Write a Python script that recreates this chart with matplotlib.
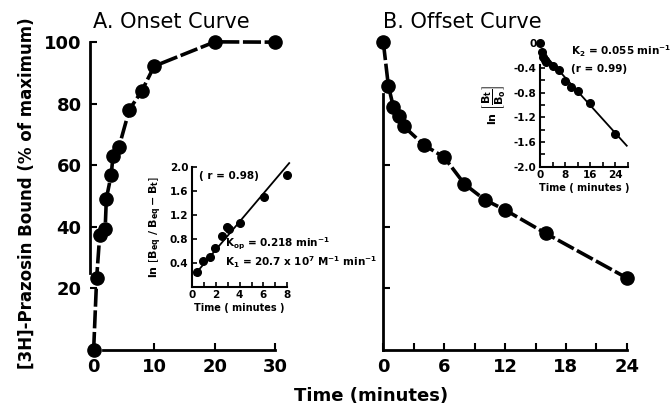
import matplotlib
matplotlib.use('Agg')
import matplotlib.pyplot as plt

plt.rcParams['font.family'] = ['DejaVu Sans']

# A. onset curve (% of maximum)
onset_t = [0, 0.5, 1.0, 1.9, 2.1, 2.9, 3.2, 4.2, 5.9, 7.9, 10, 20, 30]
onset_y = [0, 23.4, 37.2, 39.2, 49.2, 56.9, 63.1, 66.1, 78.1, 84.0, 92.2, 100.1, 100]

# inset A: ln[Beq/(Beq-Bt)]
ins_a_t = [0.42, 0.92, 1.53, 1.95, 2.5, 2.92, 3.15, 4.04, 6.05, 8.0]
ins_a_y = [0.25, 0.43, 0.50, 0.65, 0.845, 1.0, 0.955, 1.07, 1.49, 1.86]
fit_a_t = [0.25, 8.15]
fit_a_y = [0.20, 2.06]

# B. offset curve
offset_t = [0, 0.5, 1.0, 1.5, 2, 4, 6, 8, 10, 12, 16, 24]
offset_y = [100, 85.8, 78.9, 76.0, 72.7, 66.6, 62.6, 53.9, 48.8, 45.5, 37.9, 23.4]

# inset B: ln(Bt/Bo)
ins_b_t = [0, 0.5, 1.0, 1.5, 2, 4, 6, 8, 10, 12, 16, 24]
ins_b_y = [0, -0.14, -0.22, -0.27, -0.31, -0.36, -0.44, -0.61, -0.71, -0.77, -0.96, -1.47]
fit_b_t = [0.3, 27.6]
fit_b_y = [-0.12, -1.66]

W, H = 671, 407
fig = plt.figure(figsize=(W / 100, H / 100), dpi=100)


def px_axes(x0, x1, ytop, ybot):
    ax = fig.add_axes([x0 / W, 1 - ybot / H, (x1 - x0) / W, (ybot - ytop) / H])
    ax.patch.set_visible(False)
    for s in ['top', 'right']:
        ax.spines[s].set_visible(False)
    return ax


dash = (0, (5, 1))
tick_font = dict(fontsize=13, fontweight='bold')
small_font = dict(fontsize=7.5, fontweight='bold')

# ---- panel A
axA = px_axes(90, 284.5, 36, 350)
axA.set_xlim(-0.6, 31.5)
axA.set_ylim(0, 102)
axA.plot(onset_t, onset_y, color='black', lw=2.6, ls=dash, clip_on=False)
axA.plot(onset_t, onset_y, 'o', color='black', ms=9.5, clip_on=False)
axA.spines['left'].set_bounds(25, 100)
axA.spines['bottom'].set_bounds(1.5, 30)
axA.set_xticks([0, 10, 20, 30])
axA.set_yticks([20, 40, 60, 80, 100])
axA.tick_params(direction='in', length=5, width=1.5, pad=6)
for lab in axA.get_xticklabels() + axA.get_yticklabels():
    lab.set(**tick_font)
for s in ['left', 'bottom']:
    axA.spines[s].set_linewidth(2)
axA.set_title('A. Onset Curve', fontsize=15, x=0.42, y=1.0, pad=6)
axA.set_ylabel('[3H]-Prazosin Bound (% of maximum)', fontsize=12, fontweight='bold', labelpad=6)

# ---- panel B
axB = px_axes(383.3, 637, 36, 350)
axB.set_xlim(0, 25)
axB.set_ylim(0, 102)
axB.plot(offset_t, offset_y, color='black', lw=2.6, ls=dash, clip_on=False)
axB.plot(offset_t, offset_y, 'o', color='black', ms=9.5, clip_on=False)
axB.spines['left'].set_bounds(0, 83)
axB.spines['bottom'].set_bounds(0, 24)
axB.set_xticks([0, 6, 12, 18, 24])
axB.set_xticks([3, 9, 15, 21], minor=True)
axB.set_yticks([20, 40, 60])
axB.set_yticklabels([])
axB.tick_params(which='both', direction='in', length=5, width=1.5, pad=6)
for lab in axB.get_xticklabels():
    lab.set(**tick_font)
for s in ['left', 'bottom']:
    axB.spines[s].set_linewidth(2)
axB.set_title('B. Offset Curve', fontsize=15, x=0.31, y=1.0, pad=6)

fig.text(371 / W, 1 - 396 / H, 'Time (minutes)', fontsize=13, fontweight='bold',
         ha='center', va='center')

# ---- inset A
iA = px_axes(191.7, 287.4, 166.7, 286.7)
iA.set_xlim(0, 8)
iA.set_ylim(0, 2.0)
iA.plot(fit_a_t, fit_a_y, color='black', lw=1.3, clip_on=False)
iA.plot(ins_a_t, ins_a_y, 'o', color='black', ms=5.5, clip_on=False)
iA.set_xticks([0, 2, 4, 6, 8])
iA.set_xticks([1, 3, 5, 7], minor=True)
iA.set_yticks([0.4, 0.8, 1.2, 1.6, 2.0])
iA.set_yticklabels(['0.4', '0.8', '1.2', '1.6', '2.0'])
iA.tick_params(which='both', direction='in', length=3.5, width=1.2, pad=2.5)
for lab in iA.get_xticklabels() + iA.get_yticklabels():
    lab.set(**small_font)
for s in ['left', 'bottom']:
    iA.spines[s].set_linewidth(1.5)
iA.set_xlabel('Time ( minutes )', fontsize=7, fontweight='bold', labelpad=2)
iA.set_ylabel(r'ln $\left[\mathbf{B_{eq}\ /\ B_{eq} - B_t}\right]$', fontsize=8,
              fontweight='bold', labelpad=4)
iA.text(0.08, 0.9, '( r = 0.98)', transform=iA.transAxes, **small_font)
iA.text(2.75, 0.66, r'K$_{\mathbf{op}}$ = 0.218 min$^{\mathbf{-1}}$', **small_font)
iA.text(2.75, 0.35, r'K$_{\mathbf{1}}$ = 20.7 x 10$^{\mathbf{7}}$ M$^{\mathbf{-1}}$ min$^{\mathbf{-1}}$',
        **small_font)

# ---- inset B
iB = px_axes(540, 628, 43.3, 166.7)
iB.set_xlim(0, 28)
iB.set_ylim(-2.0, 0)
iB.plot(fit_b_t, fit_b_y, color='black', lw=1.3, clip_on=False)
iB.plot(ins_b_t, ins_b_y, 'o', color='black', ms=5.5, clip_on=False)
iB.spines['left'].set_bounds(-2.0, -0.35)
iB.set_xticks([0, 8, 16, 24])
iB.set_xticks([4, 12, 20, 28], minor=True)
iB.set_yticks([0, -0.4, -0.8, -1.2, -1.6, -2.0])
iB.set_yticklabels(['0', '-0.4', '-0.8', '-1.2', '-1.6', '-2.0'])
iB.set_yticks([-0.6, -1.0, -1.4, -1.8], minor=True)
iB.tick_params(which='both', direction='in', length=3.5, width=1.2, pad=2.5)
iB.yaxis.get_major_ticks()[0].tick1line.set_visible(False)
for lab in iB.get_xticklabels() + iB.get_yticklabels():
    lab.set(**small_font)
for s in ['left', 'bottom']:
    iB.spines[s].set_linewidth(1.5)
iB.set_xlabel('Time ( minutes )', fontsize=7, fontweight='bold', labelpad=2)
iB.set_ylabel(r'ln $\left[\dfrac{\mathbf{B_t}}{\mathbf{B_o}}\right]$', fontsize=8,
              fontweight='bold', labelpad=4)
iB.text(10, -0.2, r'K$_{\mathbf{2}}$ = 0.055 min$^{\mathbf{-1}}$', **small_font)
iB.text(10, -0.47, '(r = 0.99)', **small_font)

fig.savefig('out.png', dpi=100)
